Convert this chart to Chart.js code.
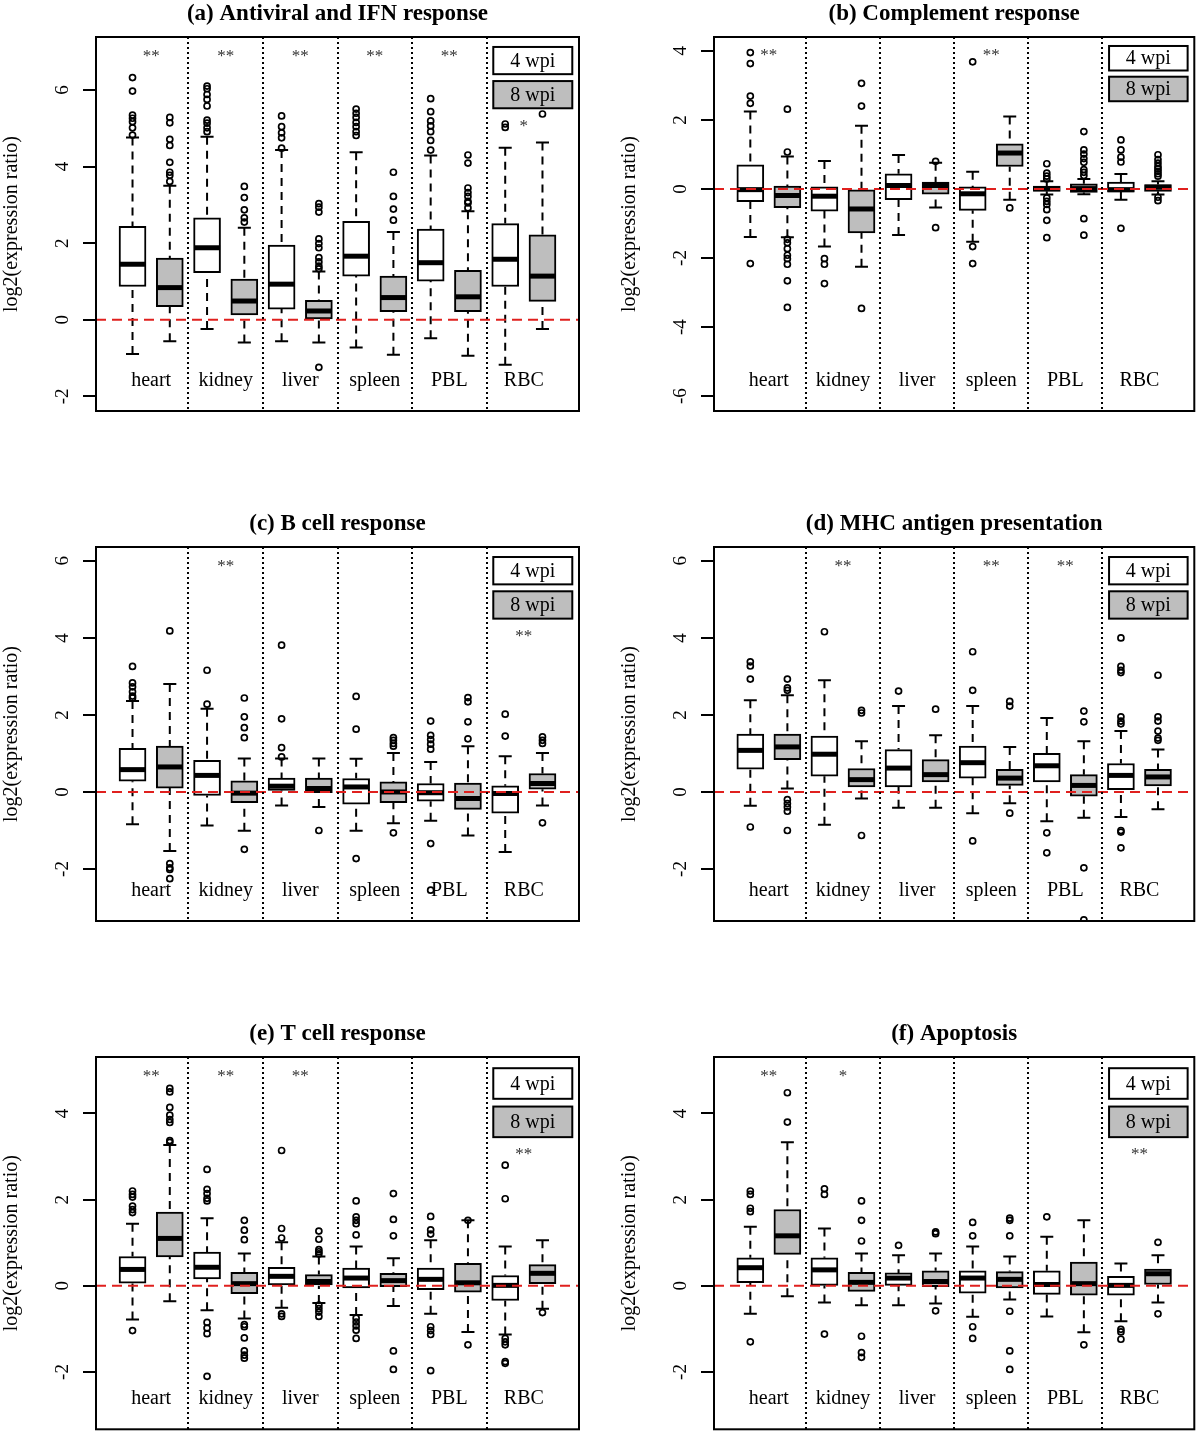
<!DOCTYPE html>
<html>
<head>
<meta charset="utf-8">
<title>Boxplots by tissue</title>
<script src="https://cdn.jsdelivr.net/npm/chart.js@4.4.1/dist/chart.umd.min.js"></script>
<style>
body { margin: 0; background: #fff; }
#page { position: relative; width: 1200px; height: 1435px; overflow: hidden; background: #fff; }
#page canvas { position: absolute; }
</style>
</head>
<body>
<div id="page">
  <canvas id="panelA" width="600" height="430" style="left:0;top:0"></canvas>
  <canvas id="panelB" width="582" height="430" style="left:618px;top:0"></canvas>
  <canvas id="panelC" width="600" height="430" style="left:0;top:510px"></canvas>
  <canvas id="panelD" width="582" height="430" style="left:618px;top:510px"></canvas>
  <canvas id="panelE" width="600" height="415" style="left:0;top:1020px"></canvas>
  <canvas id="panelF" width="582" height="415" style="left:618px;top:1020px"></canvas>
</div>
<script>
// categories (boxes go heart 4wpi, heart 8wpi, kidney 4wpi, ...)
var tissues = ['heart', 'kidney', 'liver', 'spleen', 'PBL', 'RBC'];
var weeks = ['4 wpi', '8 wpi'];

// (a) Antiviral and IFN response
var aLow  = [-0.89, -0.56, -0.24, -0.59, -0.56, -0.59, -0.72, -0.91, -0.48, -0.94, -1.17, -0.24];
var aQ1   = [0.87, 0.34, 1.23, 0.13, 0.28, 0.00, 1.14, 0.21, 1.01, 0.21, 0.87, 0.48];
var aMed  = [1.45, 0.84, 1.88, 0.49, 0.93, 0.23, 1.66, 0.58, 1.49, 0.60, 1.58, 1.14];
var aQ3   = [2.44, 1.61, 2.66, 1.06, 1.95, 0.51, 2.57, 1.14, 2.37, 1.29, 2.51, 2.22];
var aHigh = [4.76, 3.50, 4.78, 2.40, 4.43, 1.26, 4.37, 2.29, 4.29, 2.83, 4.49, 4.63];
var aOut  = [[6.32, 5.97, 5.34, 5.26, 5.17, 5.01, 4.82], [5.28, 5.14, 4.71, 4.55, 4.11, 3.85, 3.77, 3.61],
             [6.10, 6.03, 5.88, 5.75, 5.58, 5.21, 5.13, 5.01, 4.91], [3.48, 3.19, 2.87, 2.66, 2.55],
             [5.32, 5.04, 4.88, 4.75, 4.48], [3.03, 2.94, 2.81, 2.11, 1.99, 1.88, 1.62, 1.51, 1.40, 1.33, -1.24],
             [5.50, 5.39, 5.28, 5.15, 5.04, 4.91, 4.81], [3.85, 3.22, 2.89, 2.60],
             [5.77, 5.43, 5.19, 5.06, 4.91, 4.68, 4.43], [4.30, 4.09, 3.44, 3.32, 3.22, 3.09, 3.05, 2.92],
             [5.11, 5.02], [5.37]];
var aStars = ['**', '**', '**', '**', '**', '*'];
var aStarY = [7.0, 7.0, 7.0, 7.0, 7.0, 5.17];
var aTicks = [-2, 0, 2, 4, 6];

// (b) Complement response
var bLow  = [-1.39, -1.40, -1.67, -2.25, -1.33, -0.54, -1.53, -0.31, -0.16, -0.15, -0.31, -0.16];
var bQ1   = [-0.37, -0.54, -0.64, -1.27, -0.31, -0.15, -0.62, 0.65, -0.07, -0.10, -0.09, -0.07];
var bMed  = [-0.02, -0.19, -0.21, -0.58, 0.10, 0.10, -0.14, 1.04, 0.01, 0.01, -0.02, 0.05];
var bQ3   = [0.70, 0.08, 0.06, 0.00, 0.44, 0.20, 0.06, 1.31, 0.08, 0.15, 0.20, 0.13];
var bHigh = [2.24, 0.94, 0.81, 1.83, 0.98, 0.76, 0.50, 2.10, 0.22, 0.29, 0.43, 0.22];
var bOut  = [[3.95, 3.63, 2.69, 2.48, -2.16], [2.31, 1.07, -1.46, -1.56, -1.73, -1.92, -2.02, -2.18, -2.66, -3.43],
             [-2.02, -2.18, -2.74], [3.06, 2.40, -3.46],
             [], [0.80, -1.12],
             [3.68, -1.67, -2.16], [-0.55],
             [0.73, 0.46, 0.37, 0.29, -0.26, -0.36, -0.45, -0.60, -0.91, -1.41],
             [1.66, 1.13, 1.01, 0.88, 0.77, 0.56, 0.48, 0.39, -0.86, -1.34],
             [1.42, 1.13, 0.92, 0.78, -1.14], [0.99, 0.85, 0.75, 0.65, 0.58, 0.51, 0.44, 0.37, -0.24, -0.34]];
var bStars = ['**', '', '', '**', '', ''];
var bStarY = [4.0, 0, 0, 4.0, 0, 0];
var bTicks = [-6, -4, -2, 0, 2, 4];

// (c) B cell response
var cLow  = [-0.84, -1.53, -0.87, -1.01, -0.35, -0.39, -1.01, -0.81, -0.75, -1.13, -1.56, -0.35];
var cQ1   = [0.28, 0.10, -0.09, -0.28, 0.04, -0.02, -0.32, -0.28, -0.24, -0.45, -0.55, 0.07];
var cMed  = [0.58, 0.65, 0.43, -0.03, 0.15, 0.09, 0.13, 0.00, -0.02, -0.17, -0.04, 0.22];
var cQ3   = [1.13, 1.19, 0.82, 0.29, 0.36, 0.36, 0.35, 0.26, 0.22, 0.23, 0.16, 0.48];
var cHigh = [2.36, 2.80, 2.16, 0.87, 0.87, 0.87, 0.86, 1.01, 0.78, 1.19, 0.93, 1.01];
var cOut  = [[3.26, 2.83, 2.73, 2.60, 2.49, 2.44], [4.18, -1.86, -1.97, -2.01, -2.25],
             [3.16, 2.28], [2.44, 1.95, 1.67, 1.41, -1.49],
             [3.81, 1.90, 1.15, 0.91], [-1.00],
             [2.48, 1.63, -1.73], [1.41, 1.34, 1.26, 1.19, -1.06],
             [1.84, 1.47, 1.36, 1.24, 1.11, -1.34, -2.55], [2.45, 2.34, 1.82, 1.38],
             [2.02, 1.45], [1.43, 1.34, 1.26, -0.80]];
var cStars = ['', '**', '', '', '', '**'];
var cStarY = [0, 5.97, 0, 0, 0, 4.16];
var cTicks = [-2, 0, 2, 4, 6];

// (d) MHC antigen presentation
var dLow  = [-0.36, 0.09, -0.85, -0.17, -0.41, -0.41, -0.55, -0.29, -0.76, -0.67, -0.65, -0.45];
var dQ1   = [0.59, 0.84, 0.41, 0.13, 0.13, 0.26, 0.36, 0.17, 0.26, -0.11, 0.06, 0.16];
var dMed  = [1.08, 1.17, 0.98, 0.32, 0.62, 0.45, 0.76, 0.36, 0.68, 0.17, 0.43, 0.39];
var dQ3   = [1.50, 1.50, 1.45, 0.61, 1.10, 0.84, 1.19, 0.59, 1.00, 0.45, 0.74, 0.59];
var dHigh = [2.38, 2.51, 2.90, 1.32, 2.23, 1.47, 2.23, 1.17, 1.92, 1.32, 1.58, 1.10];
var dOut  = [[3.38, 3.27, 2.93, -0.91], [2.93, 2.70, 2.64, -0.20, -0.30, -0.39, -0.50, -1.00],
             [4.16], [2.12, 2.05, -1.13],
             [2.62], [2.15],
             [3.64, 2.64, -1.27], [2.35, 2.23, -0.55],
             [-1.06, -1.58], [2.10, 1.82, -1.97, -3.32],
             [4.00, 3.26, 3.16, 3.10, 1.95, 1.84, 1.77, -1.00, -1.04, -1.45], [3.03, 1.95, 1.84, 1.58, 1.40, 1.34]];
var dStars = ['', '**', '', '**', '**', ''];
var dStarY = [0, 5.97, 0, 5.97, 5.97, 0];
var dTicks = [-2, 0, 2, 4, 6];

// (e) T cell response
var eLow  = [-0.78, -0.36, -0.57, -0.76, -0.51, -0.40, -0.68, -0.47, -0.65, -1.07, -1.13, -0.53];
var eQ1   = [0.06, 0.67, 0.16, -0.18, 0.00, 0.00, -0.05, -0.02, -0.09, -0.15, -0.34, 0.05];
var eMed  = [0.38, 1.10, 0.43, 0.05, 0.22, 0.10, 0.18, 0.12, 0.15, 0.07, 0.01, 0.29];
var eQ3   = [0.68, 1.71, 0.78, 0.31, 0.43, 0.26, 0.41, 0.29, 0.41, 0.52, 0.24, 0.49];
var eHigh = [1.44, 3.27, 1.57, 0.75, 1.01, 0.68, 0.91, 0.64, 1.06, 1.52, 0.91, 1.06];
var eOut  = [[2.20, 2.12, 2.06, 1.85, 1.77, 1.70, -1.04], [4.58, 4.50, 4.14, 3.96, 3.86, 3.79, 3.37, 3.33],
             [2.70, 2.24, 2.14, 2.03, 1.97, -0.85, -0.98, -1.11, -2.10], [1.52, 1.29, 1.07, -0.90, -0.95, -1.21, -1.51, -1.61, -1.68],
             [3.14, 1.33, 1.11, -0.65, -0.71], [1.27, 1.08, 0.84, 0.79, 0.74, -0.45, -0.53, -0.61, -0.71],
             [1.97, 1.60, 1.52, 1.44, 1.18, -0.75, -0.84, -0.93, -1.03, -1.22], [2.14, 1.54, 1.16, -1.51, -1.94],
             [1.61, 1.30, 1.20, -0.95, -1.04, -1.13, -1.97], [1.52, -1.37],
             [2.80, 2.02, -1.22, -1.30, -1.37, -1.76, -1.80], [-0.62]];
var eStars = ['**', '**', '**', '', '', '**'];
var eStarY = [4.96, 4.96, 4.96, 0, 0, 3.16];
var eTicks = [-2, 0, 2, 4];

// (f) Apoptosis
var fLow  = [-0.65, -0.24, -0.39, -0.45, -0.45, -0.41, -0.72, -0.32, -0.71, -1.08, -0.82, -0.39];
var fQ1   = [0.07, 0.73, 0.01, -0.13, 0.01, -0.02, -0.17, -0.05, -0.20, -0.22, -0.22, 0.03];
var fMed  = [0.42, 1.16, 0.37, 0.08, 0.18, 0.10, 0.18, 0.15, 0.03, 0.05, 0.01, 0.28];
var fQ3   = [0.65, 1.77, 0.65, 0.31, 0.30, 0.35, 0.35, 0.33, 0.35, 0.55, 0.22, 0.39];
var fHigh = [1.37, 3.33, 1.33, 0.75, 0.71, 0.75, 0.91, 0.68, 1.14, 1.52, 0.52, 0.71];
var fOut  = [[2.20, 2.12, 1.80, 1.72, -1.30], [4.48, 3.80],
             [2.25, 2.12, -1.12], [1.97, 1.52, 1.04, -1.17, -1.55, -1.66],
             [0.94], [1.25, 1.21, -0.58],
             [1.47, 1.16, -0.95, -1.22], [1.57, 1.52, 1.16, -0.59, -1.51, -1.94],
             [1.60], [-1.37],
             [-1.01, -1.07, -1.24], [1.01, -0.65]];
var fStars = ['**', '*', '', '', '', '**'];
var fStarY = [4.96, 4.96, 0, 0, 0, 3.16];
var fTicks = [-2, 0, 2, 4];

var SERIF = '"Liberation Serif", "Times New Roman", serif';
Chart.defaults.font.family = SERIF;
Chart.defaults.color = '#000';

function makePanel(id, title, low, q1, med, q3, high, outs, stars, starY, yMin, yMax, yTicks, padRight, padBottom) {
    var boxes4 = [], boxes8 = [], points = [];
    for (var i = 0; i < low.length; i++) {
        var b = {x: i + 1, y: [q1[i], q3[i]]};
        if (i % 2 == 0) boxes4.push(b); else boxes8.push(b);
        for (var j = 0; j < outs[i].length; j++) {
            points.push({x: i + 1, y: outs[i][j]});
        }
    }

    // whiskers, medians, separators, labels, legend
    var boxParts = {
        id: 'boxParts',
        beforeDatasetsDraw: function(chart) {
            var c = chart.ctx, xs = chart.scales.x, ys = chart.scales.y;
            c.save();
            c.strokeStyle = '#000';
            c.lineWidth = 2;
            for (var i = 0; i < low.length; i++) {
                var x = xs.getPixelForValue(i + 1);
                var cap = xs.getPixelForValue(i + 1.175) - x;
                var yHi = ys.getPixelForValue(high[i]), yLo = ys.getPixelForValue(low[i]);
                c.setLineDash([8, 6]);
                c.beginPath();
                c.moveTo(x, yHi); c.lineTo(x, ys.getPixelForValue(q3[i]));
                c.moveTo(x, yLo); c.lineTo(x, ys.getPixelForValue(q1[i]));
                c.stroke();
                c.setLineDash([]);
                c.beginPath();
                c.moveTo(x - cap, yHi); c.lineTo(x + cap, yHi);
                c.moveTo(x - cap, yLo); c.lineTo(x + cap, yLo);
                c.stroke();
            }
            c.restore();
        },
        afterDatasetsDraw: function(chart) {
            var c = chart.ctx, xs = chart.scales.x, ys = chart.scales.y, area = chart.chartArea;
            c.save();
            // medians
            c.strokeStyle = '#000';
            c.lineWidth = 5;
            for (var i = 0; i < med.length; i++) {
                var x = xs.getPixelForValue(i + 1);
                var half = xs.getPixelForValue(i + 1.35) - x;
                var ym = ys.getPixelForValue(med[i]);
                c.beginPath(); c.moveTo(x - half, ym); c.lineTo(x + half, ym); c.stroke();
            }
            // zero line
            var y0 = ys.getPixelForValue(0);
            c.strokeStyle = '#e0201e';
            c.lineWidth = 2;
            c.setLineDash([10, 6]);
            c.beginPath(); c.moveTo(area.left, y0); c.lineTo(area.right, y0); c.stroke();
            // group separators
            c.strokeStyle = '#000';
            c.setLineDash([2, 3]);
            for (var g = 1; g < tissues.length; g++) {
                var xsep = Math.round(xs.getPixelForValue(2 * g + 0.5));
                c.beginPath(); c.moveTo(xsep, area.top); c.lineTo(xsep, area.bottom); c.stroke();
            }
            c.setLineDash([]);
            // tissue names and significance marks
            c.textAlign = 'center';
            c.textBaseline = 'alphabetic';
            for (var g = 0; g < tissues.length; g++) {
                var xc = xs.getPixelForValue(2 * g + 1.5);
                c.fillStyle = '#000';
                c.font = '20px ' + SERIF;
                c.fillText(tissues[g], xc, area.bottom - 25);
                if (stars[g]) {
                    c.fillStyle = '#333';
                    c.font = '17px ' + SERIF;
                    c.fillText(stars[g], xc, ys.getPixelForValue(starY[g]) + 9);
                }
            }
            // legend boxes
            var lx1 = xs.getPixelForValue(10.68), lx2 = xs.getPixelForValue(12.8);
            var top = yMax - 0.26;
            for (var k = 0; k < 2; k++) {
                var ds = chart.data.datasets[k];
                var t = ys.getPixelForValue(top - k * 0.89), bt = ys.getPixelForValue(top - k * 0.89 - 0.71);
                c.fillStyle = ds.backgroundColor;
                c.fillRect(lx1, t, lx2 - lx1, bt - t);
                c.lineWidth = 2;
                c.strokeStyle = '#000';
                c.strokeRect(lx1, t, lx2 - lx1, bt - t);
                c.fillStyle = '#000';
                c.font = '20px ' + SERIF;
                c.textBaseline = 'middle';
                c.fillText(ds.label, (lx1 + lx2) / 2, (t + bt) / 2 + 1);
            }
            // frame
            c.lineWidth = 2;
            c.strokeRect(area.left, area.top, area.right - area.left, area.bottom - area.top);
            c.restore();
        }
    };

    new Chart(document.getElementById(id), {
        type: 'bar',
        data: {
            datasets: [
                {label: weeks[0], data: boxes4, backgroundColor: '#ffffff', borderColor: '#000', borderWidth: 2,
                 borderSkipped: false, grouped: false, barThickness: 27},
                {label: weeks[1], data: boxes8, backgroundColor: '#bebebe', borderColor: '#000', borderWidth: 2,
                 borderSkipped: false, grouped: false, barThickness: 27},
                {type: 'scatter', label: 'outliers', data: points, showLine: false, pointStyle: 'circle',
                 pointRadius: 3, pointBorderWidth: 1.7, pointBackgroundColor: 'rgba(0,0,0,0)', pointBorderColor: '#000'}
            ]
        },
        options: {
            responsive: false,
            animation: false,
            events: [],
            layout: {padding: {left: 0, right: padRight, top: 0, bottom: padBottom}},
            scales: {
                x: {type: 'linear', display: false, offset: false, min: 0.02, max: 12.98},
                y: {
                    min: yMin, max: yMax,
                    afterBuildTicks: function(s) { s.ticks = yTicks.map(function(v) { return {value: v}; }); },
                    afterFit: function(s) { s.width = 96; s.paddingTop = 0; s.paddingBottom = 0; },
                    border: {display: false},
                    grid: {drawOnChartArea: false, drawTicks: true, tickLength: 13, color: '#000', lineWidth: 2},
                    ticks: {minRotation: 90, maxRotation: 90, crossAlign: 'center', padding: 12,
                            color: '#000', font: {size: 19}},
                    title: {display: true, text: 'log2(expression ratio)', color: '#000', font: {size: 20},
                            padding: {top: 0, bottom: 0}}
                }
            },
            plugins: {
                legend: {display: false},
                tooltip: {enabled: false},
                title: {display: true, text: title, fullSize: false, color: '#000',
                        font: {size: 23, weight: 'bold', lineHeight: 1.2}, padding: {top: 0, bottom: 9.4}}
            }
        },
        plugins: [boxParts]
    });
}

makePanel('panelA', '(a) Antiviral and IFN response', aLow, aQ1, aMed, aQ3, aHigh, aOut, aStars, aStarY, -2.38, 7.38, aTicks, 21, 19);
makePanel('panelB', '(b) Complement response', bLow, bQ1, bMed, bQ3, bHigh, bOut, bStars, bStarY, -6.43, 4.40, bTicks, 3, 19);
makePanel('panelC', '(c) B cell response', cLow, cQ1, cMed, cQ3, cHigh, cOut, cStars, cStarY, -3.35, 6.36, cTicks, 21, 19);
makePanel('panelD', '(d) MHC antigen presentation', dLow, dQ1, dMed, dQ3, dHigh, dOut, dStars, dStarY, -3.35, 6.36, dTicks, 3, 19);
makePanel('panelE', '(e) T cell response', eLow, eQ1, eMed, eQ3, eHigh, eOut, eStars, eStarY, -3.33, 5.31, eTicks, 21, 4);
makePanel('panelF', '(f) Apoptosis', fLow, fQ1, fMed, fQ3, fHigh, fOut, fStars, fStarY, -3.33, 5.31, fTicks, 3, 4);
</script>
</body>
</html>
